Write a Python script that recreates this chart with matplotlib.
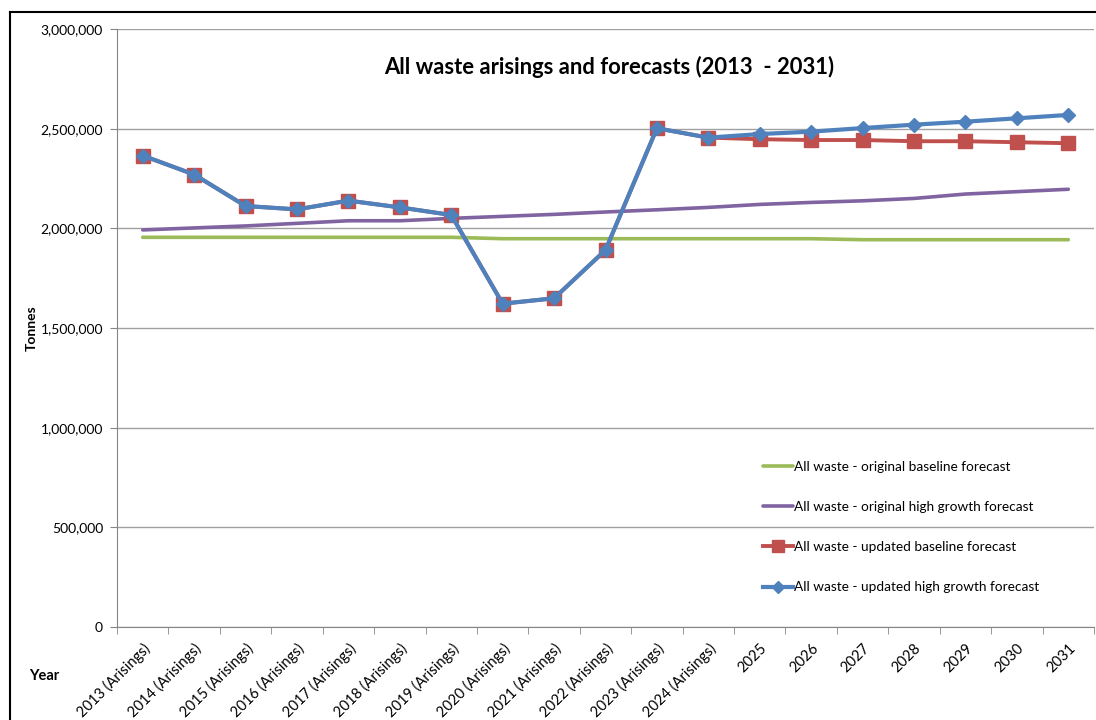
import numpy as np
import matplotlib
matplotlib.use("Agg")
import matplotlib.pyplot as plt
from matplotlib.lines import Line2D
from matplotlib.ticker import FuncFormatter

plt.rcParams['font.family'] = ['Lato', 'DejaVu Sans']

# %% data
years = ['2013 (Arisings)', '2014 (Arisings)', '2015 (Arisings)', '2016 (Arisings)',
         '2017 (Arisings)', '2018 (Arisings)', '2019 (Arisings)', '2020 (Arisings)',
         '2021 (Arisings)', '2022 (Arisings)', '2023 (Arisings)', '2024 (Arisings)',
         '2025', '2026', '2027', '2028', '2029', '2030', '2031']

orig_baseline = [1955000, 1955000, 1955000, 1955000, 1955000, 1955000, 1955000,
                 1948000, 1948000, 1948000, 1948000, 1948000, 1948000, 1948000,
                 1943000, 1943000, 1943000, 1943000, 1943000]
orig_high = [1992000, 2002000, 2012000, 2025000, 2038000, 2038000, 2050000,
             2060000, 2070000, 2082000, 2093000, 2105000, 2120000, 2130000,
             2138000, 2150000, 2172000, 2184000, 2196000]
upd_baseline = [2365000, 2270000, 2112000, 2095000, 2139000, 2105000, 2067000,
                1622000, 1649000, 1891000, 2502000, 2455000, 2447000, 2443000,
                2443000, 2437000, 2437000, 2432000, 2427000]
upd_high = [2365000, 2270000, 2112000, 2095000, 2139000, 2105000, 2067000,
            1622000, 1649000, 1891000, 2502000, 2455000, 2473000, 2485000,
            2503000, 2520000, 2535000, 2552000, 2569000]

labels = ['All waste - original baseline forecast',
          'All waste - original high growth forecast',
          'All waste - updated baseline forecast',
          'All waste - updated high growth forecast']

# %% plot
x = np.arange(len(years))
fig = plt.figure(figsize=(10.96, 7.2), dpi=100)
ax = fig.add_axes([117/1096, 93/720, 977/1096, 598/720])

ax.plot(x, orig_baseline, color='#9BBB59', lw=2.6, label=labels[0], solid_capstyle='round')
ax.plot(x, orig_high, color='#8064A2', lw=2.6, label=labels[1], solid_capstyle='round')
ax.plot(x, upd_baseline, color='#C0504D', lw=2.8, marker='s', ms=10, label=labels[2])
ax.plot(x, upd_high, color='#4F81BD', lw=3.0, marker='D', ms=7.5, label=labels[3])

ax.set_xlim(-0.5, len(years) - 0.5)
ax.set_ylim(0, 3000000)
ax.set_yticks(np.arange(0, 3000001, 500000))
ax.yaxis.set_major_formatter(FuncFormatter(lambda v, p: f'{int(v):,}'))
ax.grid(axis='y', color='#A0A0A0', lw=1)
ax.set_axisbelow(True)

ax.set_xticks(x)
ax.set_xticklabels(years, rotation=45, ha='right', rotation_mode='anchor', fontsize=10.5)
ax.set_xticks(np.arange(-0.5, len(years)), minor=True)
ax.tick_params(axis='x', which='major', length=0, pad=10)
ax.tick_params(axis='x', which='minor', length=5, color='#868686')
ax.tick_params(axis='y', length=5, color='#868686', labelsize=10, pad=5)

for s in ['top', 'right']:
    ax.spines[s].set_visible(False)
for s in ['left', 'bottom']:
    ax.spines[s].set_color('#868686')

ax.set_title('All waste arisings and forecasts (2013  - 2031)', fontsize=15.8,
             fontweight='bold', y=0.91, x=0.504)

fig.text(32/1096, 1 - 328/720, 'Tonnes', rotation=90, fontsize=10, fontweight='bold',
         ha='center', va='center')
fig.text(44/1096, 1 - 676/720, 'Year', fontsize=10.5, fontweight='bold', ha='center', va='center')

ax.legend(loc='upper left', bbox_to_anchor=(0.661, 0.278), frameon=False, fontsize=9.8,
          handlelength=2.2, handletextpad=0.1, labelspacing=2.07, borderpad=0,
          borderaxespad=0, markerscale=0.8)

# outer chart border
fig.add_artist(Line2D([10/1096, 10/1096], [0, 1 - 12/720], color='black', lw=1.5))
fig.add_artist(Line2D([10/1096, 1], [1 - 12/720, 1 - 12/720], color='black', lw=1.5))

plt.savefig('out.png', dpi=100)
